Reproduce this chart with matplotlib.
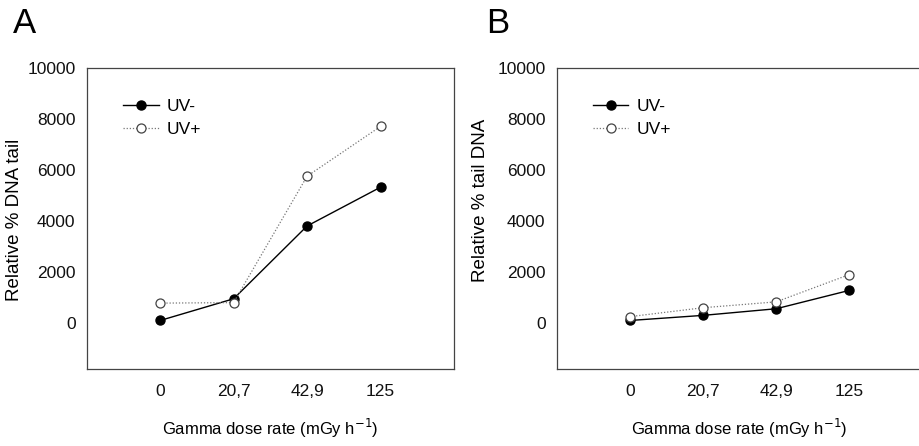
import matplotlib
matplotlib.use("Agg")
import matplotlib.pyplot as plt

plt.rcParams['font.family'] = ['Liberation Sans', 'DejaVu Sans']

doses = ["0", "20,7", "42,9", "125"]
a_uv_minus = [100, 950, 3800, 5320]
a_uv_plus = [780, 800, 5750, 7700]
b_uv_minus = [100, 300, 560, 1280]
b_uv_plus = [250, 600, 830, 1900]

W, H = 920, 446
fig = plt.figure(figsize=(W / 100, H / 100), dpi=100)

def panel(left_px, right_px, minus, plus, ylabel, label_xy, letter, letter_x):
    ax = fig.add_axes([left_px / W, 1 - 369 / H, (right_px - left_px) / W, (369 - 67.7) / H])
    x = list(range(len(doses)))
    ax.plot(x, minus, color='black', lw=1.0, marker='o', ms=6.5,
            mfc='black', mec='black', label='UV-')
    ax.plot(x, plus, color='#777777', lw=0.9, ls=(0, (1, 1.5)), marker='o', ms=6.5,
            mfc='white', mec='#444444', mew=0.9, label='UV+')
    ax.set_xlim(-1, 4)
    ax.set_ylim(-1800, 10000)
    ax.set_xticks(x)
    ax.set_xticklabels(doses)
    ax.set_yticks([0, 2000, 4000, 6000, 8000, 10000])
    ax.tick_params(length=0, labelsize=12.5, colors='#111111')
    ax.tick_params(axis='x', pad=11)
    ax.tick_params(axis='y', pad=8)
    for s in ax.spines.values():
        s.set_linewidth(0.9)
        s.set_color('#444444')
    ax.set_xlabel('Gamma dose rate (mGy h$^{-1}$)', fontsize=12, labelpad=13)
    ax.set_ylabel(ylabel, fontsize=13.5)
    ax.yaxis.set_label_coords(*label_xy)
    ax.legend(loc='upper left', bbox_to_anchor=(0.079, 0.921), frameon=False,
              fontsize=12.5, handlelength=2.07, handletextpad=0.44,
              labelspacing=0.49, borderaxespad=0)
    fig.text(letter_x / W, 1 - 33 / H, letter, fontsize=25, ha='left', va='baseline')
    return ax

panel(86.7, 454, a_uv_minus, a_uv_plus, 'Relative % DNA tail', (-0.173, 0.495), 'A', 13)
panel(556.7, 922.6, b_uv_minus, b_uv_plus, 'Relative % tail DNA', (-0.185, 0.558), 'B', 486)

fig.savefig('out.png', dpi=100)
